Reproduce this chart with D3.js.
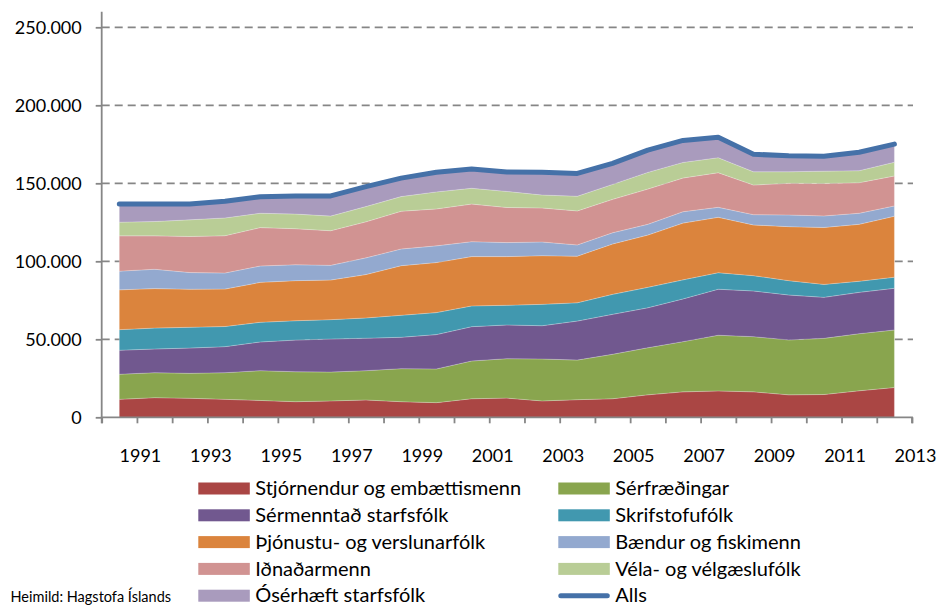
<!DOCTYPE html>
<html><head><meta charset="utf-8">
<script src="https://cdn.jsdelivr.net/npm/d3@7/dist/d3.min.js"></script>
<style>
body{margin:0;background:#fff}
svg{display:block}
text{font-family:Lato,"Open Sans",sans-serif;fill:#000}
</style>
</head><body>
<svg id="chart" width="938" height="605"></svg>
<script>
// ---------- DATA ----------
const years = [1991,1992,1993,1994,1995,1996,1997,1998,1999,2000,2001,2002,2003,2004,2005,2006,2007,2008,2009,2010,2011,2012,2013];
const seriesNames = ["Stjórnendur og embættismenn","Sérfræðingar","Sérmenntað starfsfólk","Skrifstofufólk","Þjónustu- og verslunarfólk","Bændur og fiskimenn","Iðnaðarmenn","Véla- og vélgæslufólk","Ósérhæft starfsfólk"];
const stjornendur = [11500,12600,12200,11500,10800,10000,10500,11100,10000,9400,11900,12300,10500,11300,11900,14400,16300,16900,16300,14400,14600,17000,19100];
const serfraedingar = [16100,16000,16000,17100,19100,19200,18500,18800,21200,21600,24200,25300,26900,25400,28500,30200,32200,35700,35400,35200,36000,36600,36900];
const sermenntad = [15400,15200,16200,16700,18400,20300,21200,20800,20100,22000,22000,21600,21300,25000,25600,25600,27400,29500,29300,28800,26300,26500,26700];
const skrifstofufolk = [13200,13400,13300,12900,12600,12400,12400,13000,14100,14100,13300,12600,13700,11700,12800,13100,12200,10600,9800,9200,8300,7100,7100];
const thjonustu = [25500,25300,24400,24000,25600,25700,25400,27800,31800,32100,31600,31200,31200,29900,32300,33500,36400,35500,32500,34600,36500,36500,39100];
const baendur = [12000,12400,10700,10300,10500,10200,9400,10700,10700,10700,9600,9000,8800,7200,7200,6900,7300,6400,6600,7500,7400,7100,6600];
const idnadarmenn = [22600,21400,23100,23900,24600,23100,22200,23100,24200,23700,24100,22500,21800,21800,21400,22600,21600,22200,19000,20300,20800,19600,19200];
const velafolk = [8800,9200,10700,11400,9200,9400,9400,9800,9400,10900,10100,10300,8300,9400,9600,10700,10000,9600,8500,7400,7900,7700,8800];
const oserhaeft = [11700,11300,10200,10700,10600,11600,12900,12800,11800,12600,12400,12500,14600,14600,13500,14300,14100,13100,11200,10300,9600,11800,11600];
const totalName = "Alls";
const xTickLabels = [1991,1993,1995,1997,1999,2001,2003,2005,2007,2009,2011,2013];
const yTickValues = [0,50000,100000,150000,200000,250000];
const sourceText = "Heimild: Hagstofa Íslands";

const seriesValues = [stjornendur,serfraedingar,sermenntad,skrifstofufolk,thjonustu,baendur,idnadarmenn,velafolk,oserhaeft];
const colors = ["#AA4644","#89A54E","#71588F","#4198AF","#DB843D","#93A9CF","#D19392","#B9CD96","#A99BBD"];
const totalColor = "#4571A8";

// ---------- BUILD TABLE ----------
const table = years.map((y,i)=>{
  const row = {year:y};
  seriesNames.forEach((n,j)=>row[n]=seriesValues[j][i]);
  row.total = d3.sum(seriesValues, s=>s[i]);
  return row;
});

const svg = d3.select("#chart");
const x0 = 101.7, x1 = 912, yBase = 417.3, yTop = 11.7;
const x = d3.scaleLinear().domain([1990,2013]).range([x0,x1]);
const y = d3.scaleLinear().domain([0,260000]).range([yBase,yTop]);
const px = d => x(d.year - 0.5);

const locale = d3.formatLocale({decimal:",",thousands:".",grouping:[3],currency:["","kr"]});
const fmt = locale.format(",");

const axisColor = "#868686";

// gridlines (drawn beneath areas)
svg.append("g").selectAll("line").data(yTickValues.filter(v=>v>0)).join("line")
  .attr("x1",x0).attr("x2",x1+1).attr("y1",d=>y(d)).attr("y2",d=>y(d))
  .attr("stroke",axisColor).attr("stroke-width",1.8).attr("stroke-dasharray","8,5");

// stacked areas
const stack = d3.stack().keys(seriesNames);
const layers = stack(table);
const area = d3.area().x(d=>px(d.data)).y0(d=>y(d[0])).y1(d=>y(d[1]));
svg.append("g").selectAll("path").data(layers).join("path")
  .attr("d",area).attr("fill",(d,i)=>colors[i])
  .attr("stroke","rgba(255,255,255,0.35)").attr("stroke-width",0.6);

// total line
const line = d3.line().x(d=>px(d)).y(d=>y(d.total));
svg.append("path").datum(table).attr("d",line).attr("fill","none")
  .attr("stroke",totalColor).attr("stroke-width",5).attr("stroke-linecap","round").attr("stroke-linejoin","round");

// y axis
const yAxis = d3.axisLeft(y).tickValues(yTickValues).tickSize(6).tickPadding(14).tickFormat(fmt);
const gy = svg.append("g").attr("transform",`translate(${x0},0)`).call(yAxis);
gy.select(".domain").remove();
gy.selectAll(".tick line").attr("stroke",axisColor).attr("stroke-width",1.8);
gy.selectAll(".tick text").attr("font-size",18).attr("font-family","Lato").attr("fill","#000");
svg.append("line").attr("x1",x0).attr("x2",x0).attr("y1",yTop).attr("y2",yBase)
  .attr("stroke",axisColor).attr("stroke-width",1.8);

// x axis
const allTicks = d3.range(1990,2014);
const xAxis = d3.axisBottom(x).tickValues(allTicks).tickSize(6).tickFormat("");
const gx = svg.append("g").attr("transform",`translate(0,${yBase})`).call(xAxis);
gx.select(".domain").attr("stroke",axisColor).attr("stroke-width",1.8).attr("d",`M${x0},6V0H${x1}V6`);
gx.selectAll(".tick line").attr("stroke",axisColor).attr("stroke-width",1.8);
svg.append("g").selectAll("text").data(xTickLabels).join("text")
  .attr("x",d=>x(d)+3.5).attr("y",yBase+45).attr("text-anchor","middle")
  .attr("font-size",18).text(d=>d);

// legend
const legendItems = seriesNames.map((n,i)=>({name:n,color:colors[i],type:"area"}))
  .concat([{name:totalName,color:totalColor,type:"line"}]);
const lg = svg.append("g");
legendItems.forEach((it,i)=>{
  const col = i%2, row = Math.floor(i/2);
  const sx = col===0 ? 198.3 : 558.3;
  const cy = 488.5 + row*26.8;
  const g = lg.append("g");
  if(it.type==="area"){
    g.append("rect").attr("x",sx).attr("y",cy-6).attr("width",51.5).attr("height",12).attr("fill",it.color);
  } else {
    g.append("line").attr("x1",sx+2.5).attr("x2",sx+49).attr("y1",cy).attr("y2",cy)
      .attr("stroke",it.color).attr("stroke-width",5).attr("stroke-linecap","round");
  }
  g.append("text").attr("x",sx+57).attr("y",cy).attr("dy","0.33em").attr("font-size",20).text(it.name);
});

svg.append("text").attr("x",10.5).attr("y",597).attr("dy","0.33em").attr("font-size",14.5).text(sourceText);
</script>
</body></html>
